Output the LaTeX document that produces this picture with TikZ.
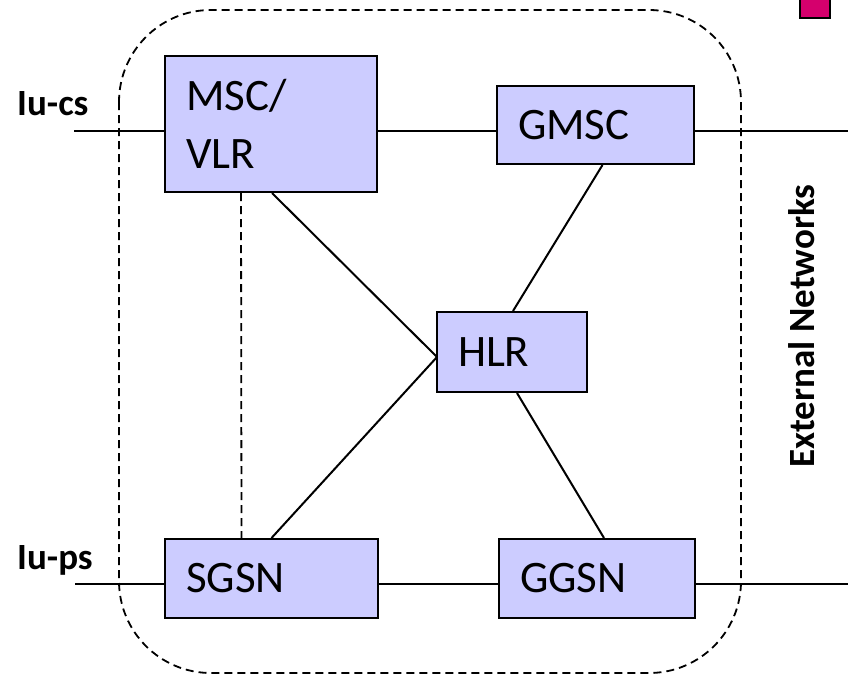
\documentclass[tikz,border=0pt]{standalone}
\usepackage{fontspec}
\setmainfont{Carlito}
\definecolor{boxblue}{HTML}{CCCCFF}
\definecolor{logomag}{HTML}{D5006D}
\begin{document}
\begin{tikzpicture}[x=1pt,y=-1pt,
  box/.style={draw=black, line width=2pt, fill=boxblue, inner xsep=21pt, inner ysep=0pt, align=left, font=\fontsize{45}{58}\selectfont},
  lbl/.style={inner sep=0pt, font=\fontsize{37}{40}\selectfont\bfseries},
  conn/.style={draw=black, line width=2pt},
  dashline/.style={draw=black, line width=1.8pt, dash pattern=on 8pt off 5pt}]
\useasboundingbox (0,0) rectangle (848,675);
\clip (0,0) rectangle (848,675);
% corner mark
\filldraw[fill=logomag, draw=black, line width=2.5pt] (800,-10) rectangle (830,18);
% core network boundary
\draw[dashline, rounded corners=92pt] (119,10) rectangle (741,673);
% nodes
\node[box, text width=170pt, minimum height=136pt] (msc) at (271,124) {MSC/\\VLR};
\node[box, text width=155pt, minimum height=78pt] (gmsc) at (595.5,125) {GMSC};
\node[box, text width=108pt, minimum height=80pt] (hlr) at (512,352) {HLR};
\node[box, text width=171pt, minimum height=79pt] (sgsn) at (271.5,578.5) {SGSN};
\node[box, text width=154pt, minimum height=79pt] (ggsn) at (597,578.5) {GGSN};
% labels
\node[lbl, anchor=base west] (iucs) at (17,115) {Iu-cs};
\node[lbl, anchor=base west] (iups) at (17,569) {Iu-ps};
\node[lbl, rotate=90, anchor=base] (ext) at (814,326) {External Networks};
% free ends
\coordinate (csin) at (74,131);
\coordinate (psin) at (75,584);
\coordinate (csout) at (848,131);
\coordinate (psout) at (848,584);
\coordinate (hlrin) at (437,357);
% connectors
\draw[conn] (csin) -- (msc.west |- csin);
\draw[conn] (msc.east |- csin) -- (gmsc.west |- csin);
\draw[conn] (gmsc.east |- csin) -- (csout);
\draw[conn] (psin) -- (sgsn.west |- psin);
\draw[conn] (sgsn.east |- psin) -- (ggsn.west |- psin);
\draw[conn] (ggsn.east |- psin) -- (psout);
\draw[dashline] ([xshift=-30pt]msc.south) -- ([xshift=-30pt]sgsn.north);
\draw[conn] ([xshift=1pt]msc.south) -- (hlrin);
\draw[conn] (sgsn.north) -- (hlrin);
\draw[conn] ([xshift=7pt]gmsc.south) -- ([xshift=1pt]hlr.north);
\draw[conn] ([xshift=5pt]hlr.south) -- ([xshift=7pt]ggsn.north);
\end{tikzpicture}
\end{document}
